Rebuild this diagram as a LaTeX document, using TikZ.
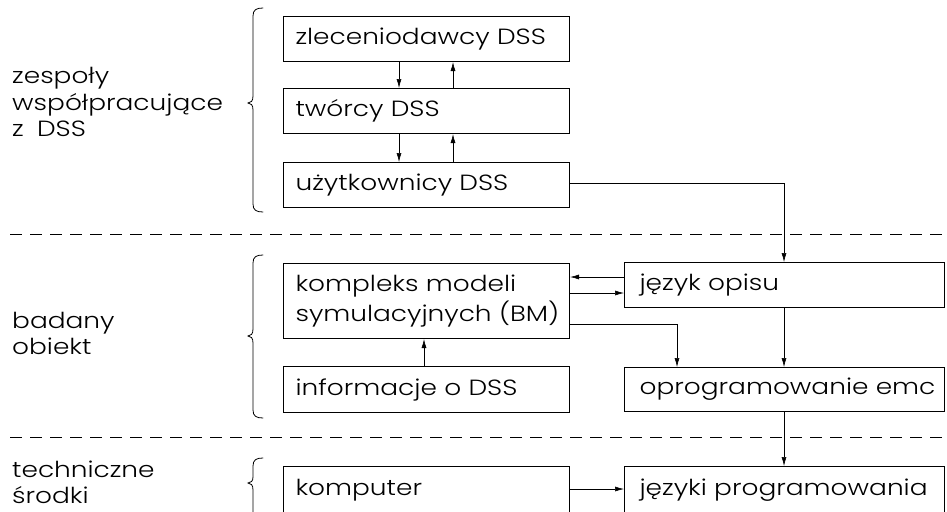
\documentclass[tikz,border=0pt]{standalone}
\usepackage{fontspec}
\setmainfont{Poppins}[UprightFont={* Light}, FakeStretch=1.2]
\usetikzlibrary{arrows.meta,calc}
\newcommand\lettering{\fontsize{22}{30}\selectfont\spaceskip=0.6em plus 0.1em\relax
  \hyphenpenalty=10000 \exhyphenpenalty=10000 \hbadness=10000 \hfuzz=50pt\relax}
\tikzset{
  blk/.style={draw, line width=1.1pt, minimum width=286pt, minimum height=45pt,
    text width=262pt, align=left, inner xsep=12pt, inner ysep=0pt, anchor=north west,
    font=\lettering},
  rblk/.style={blk, minimum width=320pt, text width=290pt, inner xsep=15pt},
  lab/.style={anchor=base west, inner sep=0pt, font=\lettering},
  arr/.style={line width=0.6pt, -{Latex[length=9pt,width=5pt]}},
  sep/.style={line width=1pt, dash pattern=on 12pt off 8pt},
  brace/.style={line width=0.8pt, line cap=round}
}
\begin{document}
\begin{tikzpicture}[x=1pt, y=-1pt]
\useasboundingbox (0,0) rectangle (947,511);
\clip (0,0) rectangle (947,511);

% section separators
\draw[sep] (10,234) -- (947,234);
\draw[sep] (10,437) -- (947,437);

% section labels
\node[lab] (l1a) at (12,83) {zespoły};
\node[lab] (l1b) at (12,110) {współpracujące};
\node[lab] (l1c) at (12,136) {z DSS};
\node[lab] (l2a) at (12,328) {badany};
\node[lab] (l2b) at (12,354) {obiekt};
\node[lab] (l3a) at (12,477) {techniczne};
\node[lab] (l3b) at (12,503) {środki};

% braces
\draw[brace] (263,8) .. controls (256,8) and (253,10) .. (253,16) -- (253,96)
  .. controls (253,101) and (251,103) .. (248,103)
  .. controls (251,103) and (253,105) .. (253,110) -- (253,204)
  .. controls (253,210) and (256,212) .. (263,212);
\draw[brace] (263,255) .. controls (256,255) and (253,257) .. (253,263) -- (253,329)
  .. controls (253,334) and (251,336) .. (248,336)
  .. controls (251,336) and (253,338) .. (253,343) -- (253,410)
  .. controls (253,416) and (256,418) .. (263,418);
\draw[brace] (263,458) .. controls (256,458) and (253,460) .. (253,466) -- (253,477)
  .. controls (253,481) and (251,483) .. (248,483)
  .. controls (251,483) and (253,485) .. (253,490) -- (253,520);

% blocks
\node[blk] (zl) at (283,16) {zleceniodawcy~DSS};
\node[blk] (tw) at (283,88) {twórcy~DSS};
\node[blk] (uz) at (283,162) {użytkownicy~DSS};
\node[blk, minimum height=75pt] (km) at (283,263) {kompleks~modeli\\symulacyjnych~(BM)};
\node[blk, minimum height=46pt] (inf) at (283,366) {informacje~o~DSS};
\node[rblk] (jo) at (624,262) {język~opisu};
\node[rblk, minimum height=44pt] (op) at (624,367) {oprogramowanie~emc};
\node[blk, minimum height=48pt] (kp) at (283,466) {komputer};
\node[rblk, minimum height=48pt] (jp) at (624,466) {języki~programowania};

% connector columns and rows
\coordinate (cA) at (399,0);
\coordinate (cB) at (453,0);
\coordinate (cC) at (784,0);
\coordinate (cD) at (677,0);
\coordinate (cE) at (424,0);
\coordinate (rA) at (0,183);
\coordinate (rB) at (0,277);
\coordinate (rC) at (0,293);
\coordinate (rD) at (0,324);
\coordinate (rE) at (0,489);

% connectors
\draw[arr] (zl.south -| cA) -- (tw.north -| cA);
\draw[arr] (tw.north -| cB) -- (zl.south -| cB);
\draw[arr] (tw.south -| cA) -- (uz.north -| cA);
\draw[arr] (uz.north -| cB) -- (tw.south -| cB);
\draw[arr] (uz.east |- rA) -- (cC |- rA) -- (jo.north -| cC);
\draw[arr] (jo.west |- rB) -- (km.east |- rB);
\draw[arr] (km.east |- rC) -- (jo.west |- rC);
\draw[arr] (km.east |- rD) -- (cD |- rD) -- (op.north -| cD);
\draw[arr] (jo.south -| cC) -- (op.north -| cC);
\draw[arr] (op.south -| cC) -- (jp.north -| cC);
\draw[arr] (inf.north -| cE) -- (km.south -| cE);
\draw[arr] (kp.east |- rE) -- (jp.west |- rE);
\end{tikzpicture}
\end{document}
